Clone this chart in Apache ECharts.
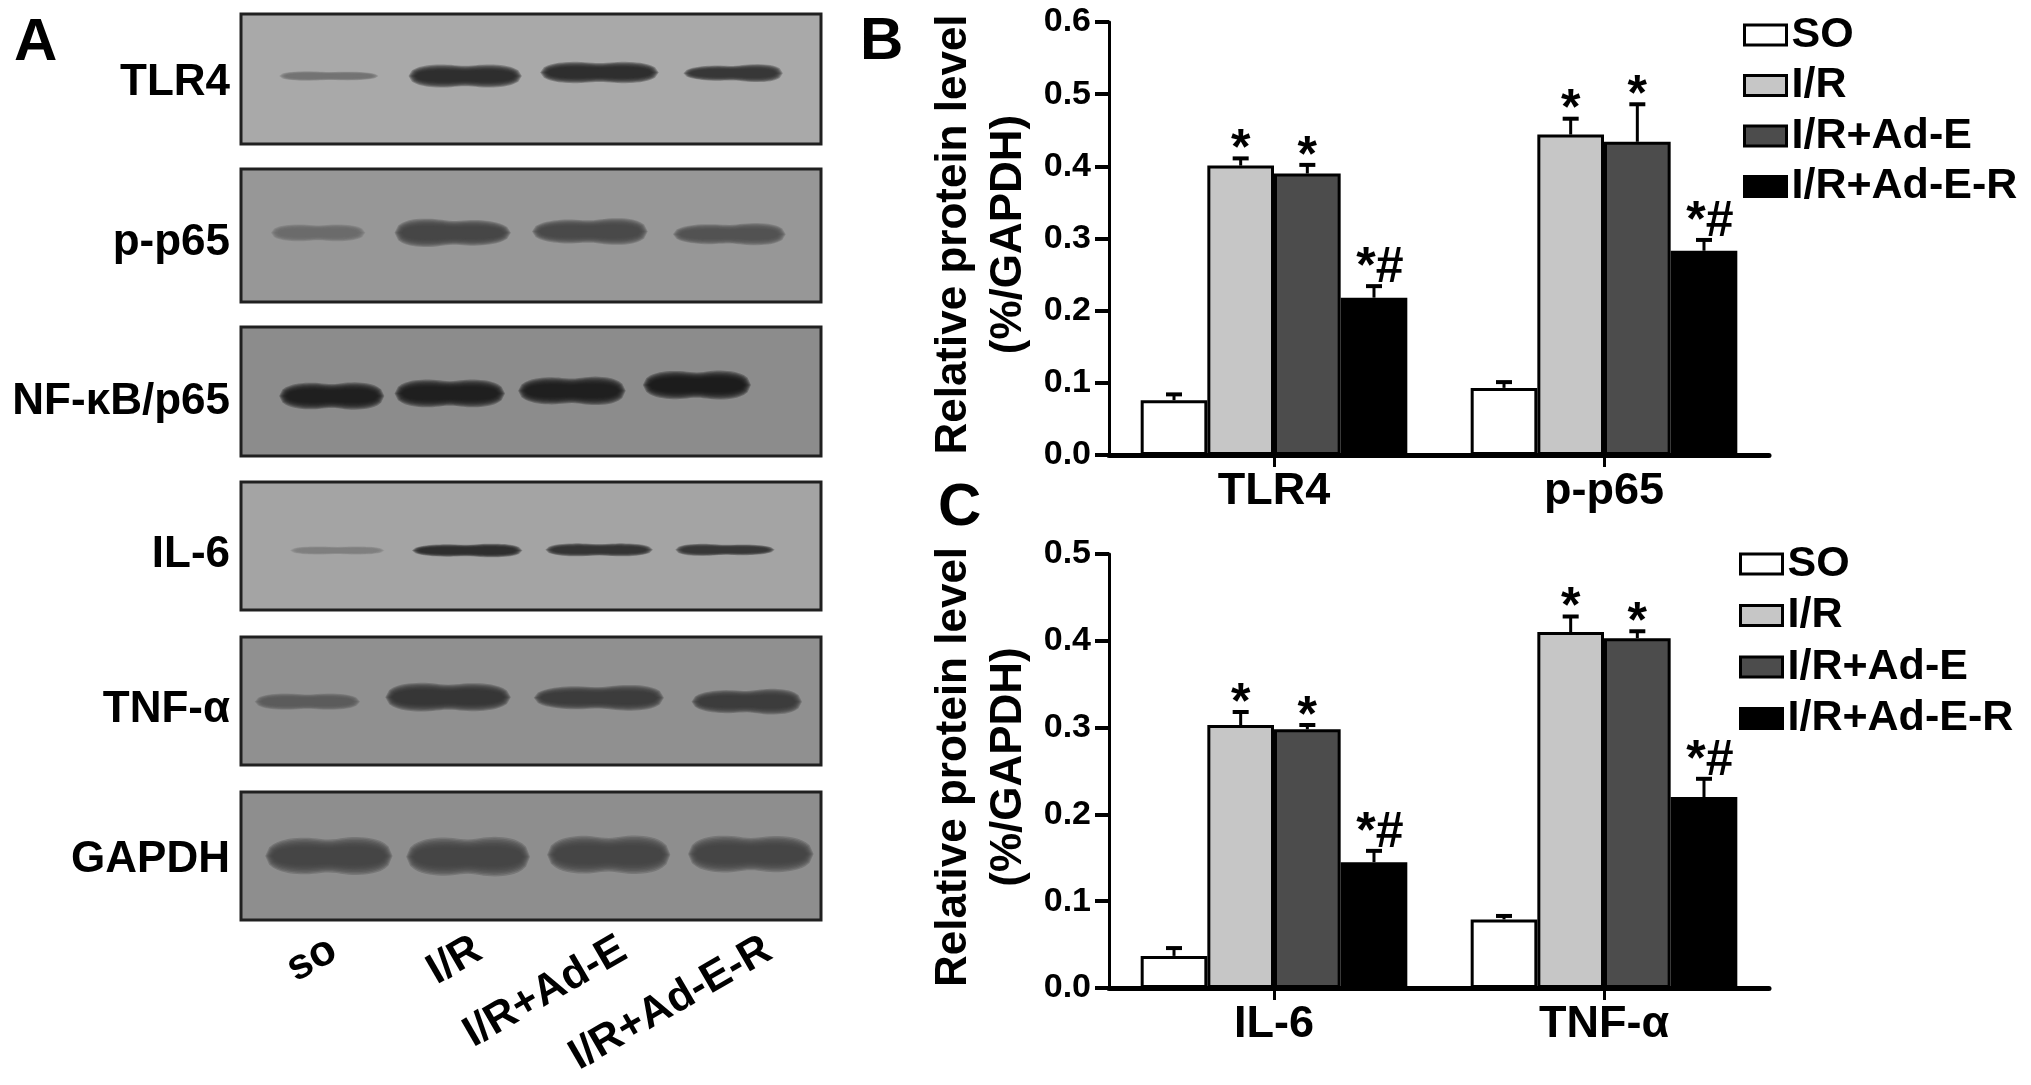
<!DOCTYPE html>
<html><head><meta charset="utf-8">
<style>html,body{margin:0;background:#fff}#c{width:2031px;height:1085px}</style>
<script src="https://cdn.jsdelivr.net/npm/echarts@6/dist/echarts.min.js"></script>
</head><body><div id="c"></div>
<script>
const groups = ['SO', 'I/R', 'I/R+Ad-E', 'I/R+Ad-E-R'];
const groupColors = ['#ffffff', '#c6c6c6', '#4c4c4c', '#000000'];

const catsB = ['TLR4', 'p-p65'];
const meanSOB = [0.076, 0.093];
const meanIRB = [0.401, 0.444];
const meanEB = [0.390, 0.434];
const meanERB = [0.218, 0.283];
const topSOB = [0.084, 0.101];
const topIRB = [0.411, 0.466];
const topEB = [0.402, 0.486];
const topERB = [0.234, 0.298];

const catsC = ['IL-6', 'TNF-α'];
const meanSOC = [0.037, 0.079];
const meanIRC = [0.303, 0.410];
const meanEC = [0.298, 0.403];
const meanERC = [0.145, 0.220];
const topSOC = [0.046, 0.083];
const topIRC = [0.318, 0.428];
const topEC = [0.303, 0.411];
const topERC = [0.158, 0.241];

const sigLabels = ['', '*', '*', '*#'];

const lanes = ['so', 'I/R', 'I/R+Ad-E', 'I/R+Ad-E-R'];
const blotNames = ['TLR4', 'p-p65', 'NF-κB/p65', 'IL-6', 'TNF-α', 'GAPDH'];
// each band: lane start, lane end, centre, left thickness, right thickness (percent of panel), grey level
const bandsTLR4 = [[7.1,23.2,47.7,6,5,112],[29.4,47.9,47.7,14,14,40],[52.1,71.5,45,13,13,40],[76.8,92.9,45.5,8,12,50]];
const bandsP65P = [[5.7,20.9,48,10,10,105],[27,46,48,18,14,65],[50.7,69.6,47,13,17,70],[75,93.4,49,11,14,80]];
const bandsP65 = [[7.1,24.2,53.5,16,17,25],[27,45,51.5,17,17,25],[48.3,65.8,49.5,16,18,25],[69.8,87.4,45,17,18,22]];
const bandsIL6 = [[9,24.2,53.5,5,5,125],[30,48,53.5,7,9,40],[53,70.5,53,8,8,45],[75.4,91.5,53,8,6,50]];
const bandsTNF = [[2.9,20,50.5,10,10,90],[25.4,46,47,18,17,50],[51,72.4,47.5,13,17,55],[78.2,96.2,50.5,13,17,55]];
const bandsGAPDH = [[4.7,25.6,50,22,24,65],[29,49.3,50.5,23,25,65],[53.3,73.5,49,23,24,65],[77.6,98.2,48.5,23,22,65]];
const blotBands = [bandsTLR4, bandsP65P, bandsP65, bandsIL6, bandsTNF, bandsGAPDH];
const blotGreys = ['#a9a9a9', '#979797', '#8c8c8c', '#a4a4a4', '#909090', '#8e8e8e'];

const FF = '"Liberation Sans", Arial, sans-serif';
const panelLeft = 241, panelWidth = 580;
const panelTops = [14, 169, 327, 482, 637, 792];
const panelHeights = [130, 133, 129, 128, 128, 128];
const labelY = [83, 243, 402, 555, 710, 860];

const grids = [], xAxes = [], yAxes = [], series = [], texts = [];

// nested translucent outlines give each band its soft, blurred edge
const softLayers = [1.3, 1.2, 1.1, 1, 0.9, 0.8, 0.7, 0.6];

function bandOutline(a, w, unit, thL, thR, s) {
  const grow = (s - 1) * 10, x0 = a[0] - grow, width = w + 2 * grow;
  const upper = [], lower = [];
  for (let n = 0; n <= 32; n++) {
    const t = n / 32;
    const edge = Math.pow(Math.max(0, 1 - Math.pow(Math.abs(2 * t - 1), 4)), 0.5);
    const waist = 1 - 0.14 * Math.exp(-Math.pow((t - 0.5) / 0.13, 2));
    const half = (thL + (thR - thL) * t) * unit * s * edge * waist / 2;
    upper.push([x0 + width * t, a[1] - half]);
    lower.unshift([x0 + width * t, a[1] + half]);
  }
  return upper.concat(lower);
}

blotNames.forEach((name, i) => {
  grids.push({ left: panelLeft, top: panelTops[i], width: panelWidth, height: panelHeights[i], show: true,
    backgroundColor: blotGreys[i], borderColor: '#202020', borderWidth: 3 });
  xAxes.push({ type: 'value', gridIndex: i, min: 0, max: 100, show: false });
  yAxes.push({ type: 'value', gridIndex: i, min: 0, max: 100, inverse: true, show: false });
  series.push({
    type: 'custom', xAxisIndex: i, yAxisIndex: i, silent: true, clip: false,
    data: blotBands[i], encode: { x: [0, 1], y: 2 },
    renderItem(params, api) {
      const a = api.coord([api.value(0), api.value(2)]);
      const b = api.coord([api.value(1), api.value(2)]);
      const unit = Math.abs(api.coord([0, 100])[1] - api.coord([0, 0])[1]) / 100;
      const g = api.value(5);
      const col = `rgb(${g},${g},${g})`;
      return { type: 'group', children: softLayers.map(s => ({
        type: 'polygon',
        shape: { points: bandOutline(a, b[0] - a[0], unit, api.value(3), api.value(4), s) },
        style: { fill: col, opacity: 0.3 }
      })) };
    }
  });
  texts.push({ type: 'text', silent: true, style: { text: name, x: 230, y: labelY[i], align: 'right', verticalAlign: 'middle', font: `bold 44px ${FF}`, fill: '#000' } });
});

// rotated lane names below the blots
const laneGrid = grids.length;
grids.push({ left: panelLeft + 20, top: 942, width: panelWidth, height: 1 });
xAxes.push({ type: 'category', gridIndex: laneGrid, data: lanes, axisLine: { show: false }, axisTick: { show: false },
  axisLabel: { interval: 0, rotate: 30, margin: 4, color: '#000', fontFamily: FF, fontWeight: 'bold', fontSize: 43 } });
yAxes.push({ type: 'value', gridIndex: laneGrid, show: false });

function addChart(cats, top, bottomY, maxV, means, tops, legendLeft, legendTop, legendGap) {
  const gi = grids.length;
  grids.push({ left: 1109, top, width: 660, height: bottomY - top });
  xAxes.push({ type: 'category', gridIndex: gi, data: cats,
    axisLine: { lineStyle: { color: '#000', width: 5 } },
    axisTick: { show: true, alignWithLabel: true, length: 12, lineStyle: { color: '#000', width: 3 } },
    axisLabel: { interval: 0, margin: 14, color: '#000', fontFamily: FF, fontWeight: 'bold', fontSize: 45 } });
  yAxes.push({ type: 'value', gridIndex: gi, min: 0, max: maxV, interval: 0.1,
    name: 'Relative protein level\n(%/GAPDH)', nameLocation: 'middle', nameGap: 73,
    nameTextStyle: { color: '#000', fontFamily: FF, fontWeight: 'bold', fontSize: 44, lineHeight: 55, padding: [0, 0, 0, 8] },
    splitLine: { show: false },
    axisLine: { show: true, lineStyle: { color: '#000', width: 3 } },
    axisTick: { show: true, length: 14, lineStyle: { color: '#000', width: 4 } },
    axisLabel: { margin: 18, color: '#000', fontFamily: FF, fontWeight: 'bold', fontSize: 34, formatter: v => v.toFixed(1) } });
  groups.forEach((name, k) => {
    series.push({ type: 'bar', name, xAxisIndex: gi, yAxisIndex: gi, data: means[k], barWidth: '20.2%', barGap: 0,
      silent: true, itemStyle: { color: groupColors[k], borderColor: '#000', borderWidth: 3 } });
  });
  groups.forEach((name, k) => {
    series.push({
      type: 'custom', xAxisIndex: gi, yAxisIndex: gi, silent: true, clip: false, z: 3,
      data: cats.map((c, j) => [j, means[k][j], tops[k][j]]), encode: { x: 0, y: [1, 2] },
      renderItem(params, api) {
        const j = api.value(0);
        const band = api.size([1, 0])[0];
        const dx = (k - 1.5) * band * 0.202;
        const base = api.coord([j, api.value(1)]);
        const cap = api.coord([j, api.value(2)]);
        const x = base[0] + dx;
        const ln = { stroke: '#000', lineWidth: 3 };
        const kids = [
          { type: 'line', shape: { x1: x, y1: base[1], x2: x, y2: cap[1] }, style: ln },
          { type: 'line', shape: { x1: x - 8, y1: cap[1], x2: x + 8, y2: cap[1] }, style: { stroke: '#000', lineWidth: 4 } }
        ];
        const s = sigLabels[k];
        if (s) kids.push({ type: 'text', style: {
          text: s, x: x + (s.length > 1 ? 6 : 0), y: cap[1] + (s.length > 1 ? 7 : 17),
          align: 'center', verticalAlign: 'bottom', font: `bold 50px ${FF}`, fill: '#000' } });
        return { type: 'group', children: kids };
      }
    });
  });
  return {
    show: true, orient: 'vertical', left: legendLeft, top: legendTop, itemWidth: 42, itemHeight: 20,
    itemStyle: { borderWidth: 3, borderColor: '#000' },
    itemGap: legendGap, padding: 0, selectedMode: false, data: groups, icon: 'rect',
    textStyle: { color: '#000', fontFamily: FF, fontWeight: 'bold', fontSize: 43, lineHeight: 46 }
  };
}

const legendB = addChart(catsB, 22, 455, 0.6,
  [meanSOB, meanIRB, meanEB, meanERB], [topSOB, topIRB, topEB, topERB], 1743, 12, 4.5);
const legendC = addChart(catsC, 554, 988, 0.5,
  [meanSOC, meanIRC, meanEC, meanERC], [topSOC, topIRC, topEC, topERC], 1739, 541, 5.5);

texts.push(
  { type: 'text', silent: true, style: { text: 'A', x: 14, y: 43, verticalAlign: 'middle', font: `bold 60px ${FF}`, fill: '#000' } },
  { type: 'text', silent: true, style: { text: 'B', x: 860, y: 42, verticalAlign: 'middle', font: `bold 60px ${FF}`, fill: '#000' } },
  { type: 'text', silent: true, style: { text: 'C', x: 938, y: 508, verticalAlign: 'middle', font: `bold 60px ${FF}`, fill: '#000' } }
);

const chart = echarts.init(document.getElementById('c'), null, { renderer: 'canvas' });
chart.setOption({
  backgroundColor: '#fff', animation: false,
  grid: grids, xAxis: xAxes, yAxis: yAxes, series,
  legend: [legendB, legendC], tooltip: { show: false },
  graphic: { elements: texts }
});
</script></body></html>
